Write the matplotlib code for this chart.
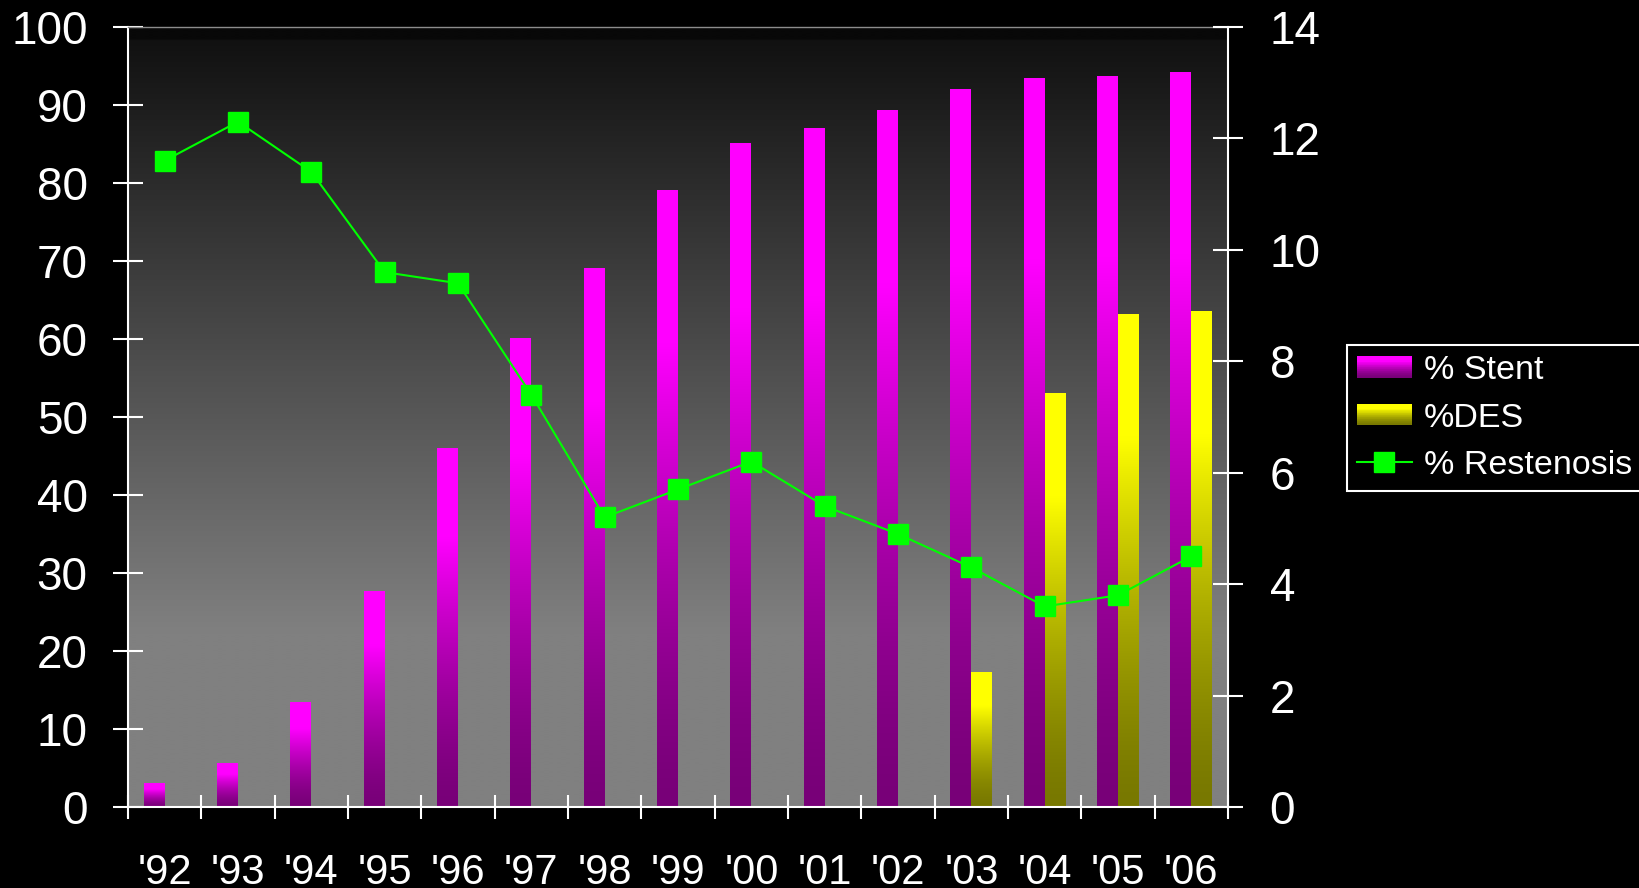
import numpy as np
import matplotlib
matplotlib.use("Agg")
import matplotlib.pyplot as plt
from matplotlib.patches import Patch, Rectangle
from matplotlib.lines import Line2D
from matplotlib.legend_handler import HandlerBase

plt.rcParams["font.family"] = ["Liberation Sans", "DejaVu Sans"]

# Data
years = ["'92", "'93", "'94", "'95", "'96", "'97", "'98", "'99",
         "'00", "'01", "'02", "'03", "'04", "'05", "'06"]
stent = [3, 5.6, 13.4, 27.6, 46, 60, 69, 79, 85, 87, 89.3, 92, 93.4, 93.7, 94.2]
des = [0, 0, 0, 0, 0, 0, 0, 0, 0, 0, 0, 17.2, 53, 63.1, 63.5]
restenosis = [11.6, 12.3, 11.4, 9.6, 9.4, 7.4, 5.2, 5.7, 6.2, 5.4, 4.9, 4.3, 3.6, 3.8, 4.5]


def bar_gradient(bright, dark, n=256):
    # bottom -> top, dark at the base, bright near the top
    s = np.linspace(0, 1, n)
    t = np.clip(s / 0.75, 0, 1) ** 1.5
    b = np.array(bright) / 255.0
    d = np.array(dark) / 255.0
    return d[None, :] + (b - d)[None, :] * t[:, None]


stent_grad = bar_gradient((255, 0, 255), (120, 0, 120))
des_grad = bar_gradient((255, 255, 0), (120, 120, 0))


class GradHandler(HandlerBase):
    def create_artists(self, legend, orig_handle, xdescent, ydescent,
                       width, height, fontsize, trans):
        cols = orig_handle.grad_colors[::8]
        n = len(cols)
        arts = []
        for k, c in enumerate(cols):
            arts.append(Rectangle((-xdescent, -ydescent + height * k / n), width,
                                  height / n * 1.05, facecolor=c, edgecolor="none",
                                  transform=trans))
        return arts


fig = plt.figure(figsize=(16.4, 8.88), dpi=100, facecolor="black")
ax = fig.add_axes([128 / 1640, 1 - 807 / 888, 1100 / 1640, 780 / 888])
ax.set_facecolor("black")

# plot area background: dark at top, grey at the bottom
rows = 400
u = np.linspace(0, 1, rows)  # 0 = top
g = 17 + 111 * np.clip((u - 0.017) / 0.76, 0, 1)
g[u < 0.017] = 8
bg = np.repeat((g / 255.0)[:, None, None], 3, axis=2)
ax.imshow(bg, extent=[0, 1, 0, 1], transform=ax.transAxes, aspect="auto",
          zorder=0, interpolation="bilinear")

x = np.arange(len(years))
w = 0.285
bars_s = ax.bar(x - w / 2, stent, w, color="none", zorder=2)
bars_d = ax.bar(x + w / 2, des, w, color="none", zorder=2)
for bars, grad in [(bars_s, stent_grad), (bars_d, des_grad)]:
    for r in bars:
        h = r.get_height()
        if h <= 0:
            continue
        x0 = r.get_x()
        ax.imshow(grad[:, None, :], extent=[x0, x0 + r.get_width(), 0, h],
                  origin="lower", aspect="auto", zorder=2, interpolation="bilinear")

ax.set_xlim(-0.5, len(years) - 0.5)
ax.set_ylim(0, 100)
ax.set_yticks(range(0, 101, 10))
ax.set_xticks(x, years)
ax.set_xticks(np.arange(-0.5, len(years), 1), minor=True)
ax.tick_params(axis="y", direction="inout", length=22, width=1.5, colors="white",
               labelsize=33, pad=18)
ax.tick_params(axis="x", which="major", length=0, colors="white", labelsize=30, pad=33)
ax.tick_params(axis="x", which="minor", direction="inout", length=17, width=1.5,
               color="white")
for side in ["left", "bottom"]:
    ax.spines[side].set_color("white")
    ax.spines[side].set_linewidth(1.5)
ax.spines["top"].set_color("#8c8c8c")
ax.spines["top"].set_linewidth(1)
ax.spines["right"].set_visible(False)

ax2 = ax.twinx()
ax2.plot(x, restenosis, color="#00ff00", lw=1.5, marker="s", ms=14.5,
         mec="#00ff00", zorder=3)
ax2.set_ylim(0, 14)
ax2.set_yticks(range(0, 15, 2))
ax2.tick_params(axis="y", direction="inout", length=22, width=1.5, colors="white",
                labelsize=33, pad=19)
for side in ["left", "top", "bottom"]:
    ax2.spines[side].set_visible(False)
ax2.spines["right"].set_color("white")
ax2.spines["right"].set_linewidth(1.5)

h1 = Patch(label="% Stent")
h1.grad_colors = stent_grad
h2 = Patch(label="%DES")
h2.grad_colors = des_grad
h3 = Line2D([], [], color="#00ff00", lw=1.5, marker="s", ms=14.5, mec="#00ff00",
            label="% Restenosis")
leg = fig.legend(handles=[h1, h2, h3], handler_map={h1: GradHandler(), h2: GradHandler()},
                 loc="upper left", bbox_to_anchor=(1347 / 1640, 1 - 345 / 888),
                 borderaxespad=0, fancybox=False, framealpha=1, facecolor="black",
                 edgecolor="white", fontsize=24.5, labelcolor="white",
                 handlelength=1.6, handleheight=0.6, handletextpad=0.36,
                 borderpad=0.3, labelspacing=0.48)
leg.get_frame().set_linewidth(1.5)

fig.savefig("out.png", dpi=100, facecolor="black")
